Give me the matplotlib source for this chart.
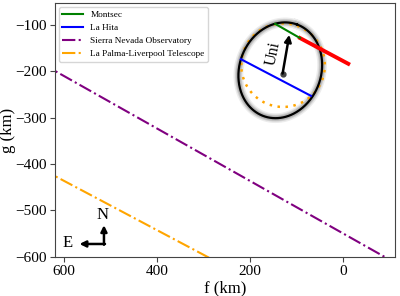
import numpy as np
import matplotlib
matplotlib.use("Agg")
import matplotlib.pyplot as plt

plt.rcParams['font.family'] = ['Liberation Serif', 'DejaVu Serif']
plt.rcParams['mathtext.fontset'] = 'stix'

# Data (km)
sierra_f = [650, -120]
sierra_g = [-182.5, -617]
palma_f = [650, 250]
palma_g = [-410, -622]
lahita_f = [220, 69]
lahita_g = [-174, -253]
montsec_f = [146, 92.5]
montsec_g = [-98, -128.6]
montsec_red_f = [92.5, -11.4]
montsec_red_g = [-128.6, -184]
# fitted ellipse: center, semi-axes, tilt (deg)
ell_center = (135, -198)
ell_axes = (105, 88)
ell_tilt = 20
# circle fit
circ_center = (129, -187)
circ_radius = 90
# direction arrow
uni_tail = (130, -205)
uni_tip = (115.5, -121.5)

fig = plt.figure(figsize=(4.0, 2.96), dpi=100)
ax = fig.add_axes([0.1375, 0.132, 0.85, 0.858])

ax.plot(sierra_f, sierra_g, color='purple', ls='-.', lw=1.5, label='Sierra Nevada Observatory', zorder=2)
ax.plot(palma_f, palma_g, color='orange', ls='-.', lw=1.5, label='La Palma-Liverpool Telescope', zorder=2)

# ellipse
t = np.linspace(0, 2 * np.pi, 400)
al = np.deg2rad(ell_tilt)
u = np.array([-np.sin(al), np.cos(al)])
v = np.array([np.cos(al), np.sin(al)])
ef = ell_center[0] + ell_axes[0] * np.cos(t) * u[0] + ell_axes[1] * np.sin(t) * v[0]
eg = ell_center[1] + ell_axes[0] * np.cos(t) * u[1] + ell_axes[1] * np.sin(t) * v[1]
for lw, a in [(7, 0.15), (5, 0.25), (3.5, 0.35)]:
    ax.plot(ef, eg, color='gray', lw=lw, alpha=a, zorder=3)
ax.plot(ef, eg, color='black', lw=1.6, zorder=4)

# circle
cf = circ_center[0] + circ_radius * np.cos(t)
cg = circ_center[1] + circ_radius * np.sin(t)
ax.plot(cf, cg, color='orange', ls=(0, (1, 2.2)), lw=1.8, zorder=3)

# chords
ax.plot(montsec_red_f, montsec_red_g, color='red', lw=2.8, zorder=5)
ax.plot(montsec_f, montsec_g, color='green', lw=1.5, label='Montsec', zorder=6)
ax.plot(lahita_f, lahita_g, color='blue', lw=1.5, label='La Hita', zorder=6)

# direction arrow
ax.plot([uni_tail[0]], [uni_tail[1]], 'o', color='#444444', ms=3.5, zorder=7)
ax.annotate('', xy=uni_tip, xytext=uni_tail,
            arrowprops=dict(arrowstyle='-|>', color='black', lw=1.8, mutation_scale=10,
                            shrinkA=0, shrinkB=0), zorder=7)
ax.text(150, -161, 'Uni', rotation=78, ha='center', va='center', fontsize=11.5, zorder=7)

# compass
ax.annotate('', xy=(0.144, 0.125), xytext=(0.144, 0.048), xycoords='axes fraction',
            arrowprops=dict(arrowstyle='-|>', color='black', lw=1.8, mutation_scale=9,
                            shrinkA=0, shrinkB=0))
ax.annotate('', xy=(0.072, 0.051), xytext=(0.147, 0.051), xycoords='axes fraction',
            arrowprops=dict(arrowstyle='-|>', color='black', lw=1.8, mutation_scale=9,
                            shrinkA=0, shrinkB=0))
ax.text(0.141, 0.165, 'N', transform=ax.transAxes, ha='center', va='center', fontsize=12)
ax.text(0.038, 0.055, 'E', transform=ax.transAxes, ha='center', va='center', fontsize=12)

ax.set_xlim(620, -112)
ax.set_ylim(-600, -53)
ax.set_xticks([600, 400, 200, 0])
ax.set_yticks([-600, -500, -400, -300, -200, -100])
ax.tick_params(labelsize=11, width=0.8, color='#444444', pad=2.5)
for s in ax.spines.values():
    s.set_color('#444444')
ax.set_xlabel('f (km)', fontsize=12)
ax.set_ylabel('g (km)', fontsize=12)
ax.yaxis.set_label_coords(-0.115, 0.5)
ax.xaxis.set_label_coords(0.5, -0.092)

h, l = ax.get_legend_handles_labels()
order = [l.index('Montsec'), l.index('La Hita'), l.index('Sierra Nevada Observatory'), l.index('La Palma-Liverpool Telescope')]
ax.legend([h[i] for i in order], [l[i] for i in order], loc='upper left', fontsize=6.7,
          handlelength=2.2, labelspacing=0.5, borderaxespad=0.4, framealpha=0.8)

fig.savefig('out.png', dpi=100)
